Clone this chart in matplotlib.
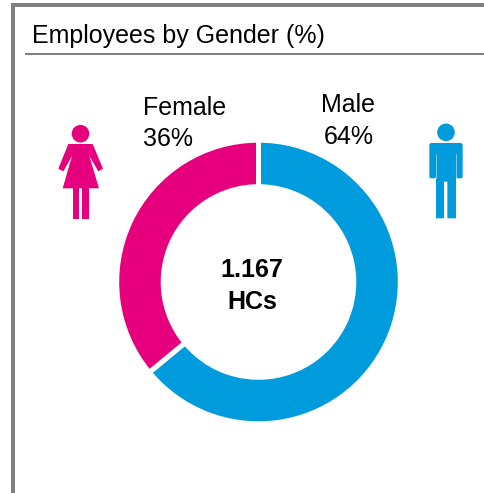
import matplotlib
matplotlib.use("Agg")
import matplotlib.pyplot as plt
from matplotlib.patches import Circle, Polygon, Rectangle, FancyBboxPatch

plt.rcParams['font.family'] = ['Liberation Sans', 'DejaVu Sans']

categories = ["Male", "Female"]
shares = [64, 36]
colors = ["#009BDC", "#E6007E"]
title = "Employees by Gender (%)"
center_value = "1.167"
center_unit = "HCs"

W, H = 485, 493
fig = plt.figure(figsize=(W / 100, H / 100), dpi=100)
ax = fig.add_axes([0, 0, 1, 1])
PX = 0.72  # points per pixel

ax.pie(shares, colors=colors, startangle=-90, counterclock=True,
       center=(258.5, 282), radius=141.8, frame=True,
       wedgeprops=dict(width=46.5, edgecolor="white", linewidth=5 * PX))
ax.set_xlim(0, W)
ax.set_ylim(H, 0)
ax.set_aspect('equal')
ax.axis('off')

# frame
GREY = "#808080"
ax.add_patch(Rectangle((11, 3), W - 11, 4, fc=GREY, ec='none'))
ax.add_patch(Rectangle((11, 3), 4, H - 3, fc=GREY, ec='none'))
ax.add_patch(Rectangle((25, 53), W - 25, 1.6, fc=GREY, ec='none'))

# texts
ax.text(32.5, 43, title, fontsize=18, color="black", ha='left', va='baseline')
ax.text(143, 115, f"{categories[1]}", fontsize=18, ha='left', va='baseline')
ax.text(143, 146, f"{shares[1]}%", fontsize=18, ha='left', va='baseline')
ax.text(348, 112, f"{categories[0]}", fontsize=18, ha='center', va='baseline')
ax.text(349, 144, f"{shares[0]}%", fontsize=18, ha='center', va='baseline')
ax.text(252, 277, center_value, fontsize=18, fontweight='bold', ha='center', va='baseline')
ax.text(252, 309, center_unit, fontsize=18, fontweight='bold', ha='center', va='baseline')

# female icon
def z(pts, ox=0, oy=0):
    return [(ox + x / 3, oy + y / 3) for x, y in pts]

fc = colors[1]
ax.add_patch(Circle((80.5, 133.7), 8.8, fc=fc, ec='none'))
ax.add_patch(Polygon(z([(205, 432), (278, 432), (309, 506), (295, 514), (268, 468),
                        (297, 565), (188, 565), (216, 468), (190, 514), (175, 506)]),
                     fc=fc, ec='none'))
ax.add_patch(Rectangle((218 / 3, 560 / 3), 20 / 3, 98 / 3, fc=fc, ec='none'))
ax.add_patch(Rectangle((246 / 3, 560 / 3), 20 / 3, 98 / 3, fc=fc, ec='none'))

# male icon
mc = colors[0]
ox, oy = 300, 70
ax.add_patch(Circle((ox + 438 / 3, oy + 187 / 3), 8.8, fc=mc, ec='none'))
ax.add_patch(Polygon(z([(392, 219), (484, 219), (488, 224), (488, 322), (484, 325),
                        (472, 325), (468, 322), (468, 445), (442, 445), (442, 335),
                        (432, 335), (432, 445), (408, 445), (408, 322), (404, 325),
                        (392, 325), (388, 322), (388, 224)], ox, oy), fc=mc, ec='none'))
for x in (407, 469):
    ax.plot([ox + x / 3] * 2, [oy + 252 / 3, oy + 325 / 3], color="white", lw=0.5, alpha=0.7)

fig.savefig("out.png", dpi=100, facecolor="white")
